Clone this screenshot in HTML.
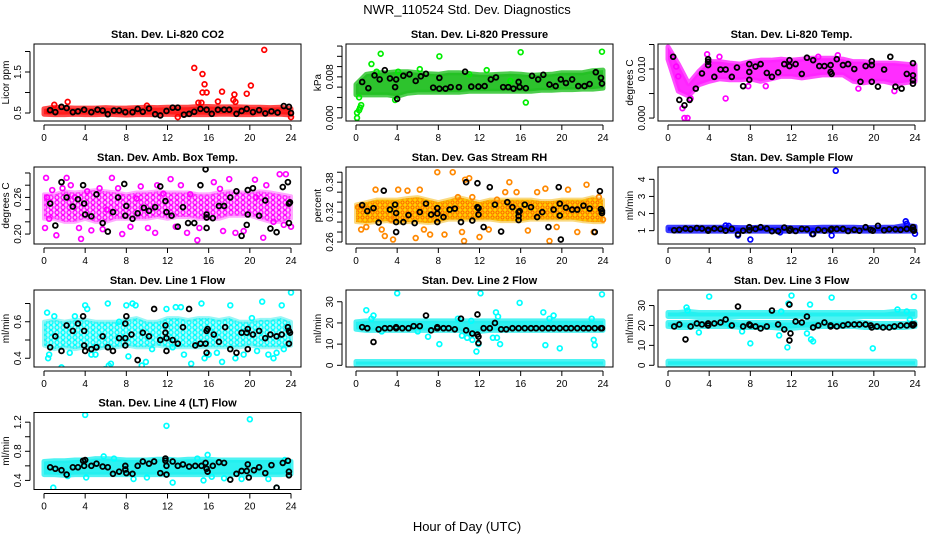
<!DOCTYPE html>
<html><head><meta charset="utf-8"><style>
html,body{margin:0;padding:0;background:#fff}
svg{display:block;font-family:"Liberation Sans",Arial,sans-serif}
</style></head><body>
<svg id="chart" width="936" height="540" viewBox="0 0 936 540" xmlns="http://www.w3.org/2000/svg">
<defs>
<pattern id="pat-amb" width="6" height="5" patternUnits="userSpaceOnUse"><circle cx="3" cy="2.5" r="2" fill="none" stroke="#ff00ff" stroke-width="1.3"/></pattern>
<pattern id="pat-rh" width="5" height="5" patternUnits="userSpaceOnUse"><rect width="5" height="5" fill="#ffd000"/><circle cx="2.5" cy="2.5" r="1.6" fill="none" stroke="#ff6000" stroke-width="1"/></pattern>
<pattern id="pat-l1" width="6" height="5" patternUnits="userSpaceOnUse"><circle cx="3" cy="2.5" r="2" fill="none" stroke="#00ffff" stroke-width="1.3"/></pattern>
</defs>
<text x="467" y="14" text-anchor="middle" font-size="13">NWR_110524  Std. Dev. Diagnostics</text>
<text x="467" y="531" text-anchor="middle" font-size="13">Hour of Day (UTC)</text>
</svg>
<script>
// ---------- data ----------
const xTicks = [0,4,8,12,16,20,24];
const bandHours = [0,1,2,3,4,5,6,7,8,9,10,11,12,13,14,15,16,17,18,19,20,21,22,23,24];

const co2BandLo = [0.47,0.46,0.46,0.47,0.46,0.46,0.47,0.46,0.45,0.46,0.46,0.46,0.47,0.46,0.46,0.46,0.46,0.47,0.47,0.46,0.46,0.47,0.47,0.47,0.45];
const co2BandHi = [0.6,0.64,0.63,0.62,0.62,0.62,0.63,0.62,0.62,0.63,0.64,0.63,0.64,0.64,0.64,0.66,0.66,0.65,0.65,0.65,0.64,0.64,0.63,0.64,0.6];
const co2Points = [[2.3,0.77],[14.6,1.6],[15.4,1.45],[15.6,1.2],[15.4,1.0],[15.8,1.0],[17.3,1.02],[18.5,0.95],[19.7,0.97],[20.1,1.17],[21.4,2.04],[15.0,0.75],[16.9,0.78],[18.6,0.77],[13.0,0.4],[24,0.4],[1,0.7],[10,0.68],[0.5,0.55],[15.3,0.75],[18.4,0.82]];
const co2Black = [[0.6,0.57],[1.1,0.52],[1.7,0.65],[2.2,0.62],[2.8,0.52],[3.3,0.54],[3.9,0.58],[4.6,0.52],[5.2,0.58],[5.7,0.56],[6.2,0.47],[6.8,0.56],[7.3,0.56],[7.9,0.52],[8.6,0.52],[9.1,0.6],[9.6,0.53],[10.2,0.61],[10.8,0.47],[11.3,0.44],[11.9,0.55],[12.5,0.63],[13.0,0.63],[13.6,0.46],[14.1,0.48],[14.6,0.53],[15.2,0.6],[15.8,0.58],[16.3,0.48],[16.9,0.58],[17.5,0.58],[18.0,0.58],[18.7,0.48],[19.2,0.55],[19.7,0.6],[20.3,0.52],[20.9,0.57],[21.5,0.49],[22.1,0.54],[22.7,0.51],[23.3,0.67],[23.8,0.65],[24,0.5]];

const presBandLo = [0.0045,0.0045,0.0045,0.0045,0.0042,0.0048,0.005,0.005,0.005,0.005,0.005,0.0052,0.0052,0.0052,0.0052,0.0052,0.0052,0.0052,0.0054,0.0054,0.0055,0.0055,0.0056,0.0056,0.0058];
const presBandHi = [0.0065,0.0085,0.0088,0.0088,0.009,0.009,0.0088,0.0086,0.0085,0.0088,0.0088,0.0086,0.0084,0.0084,0.0085,0.0086,0.0085,0.0083,0.0084,0.0085,0.0088,0.0088,0.0088,0.0092,0.0093];
const presPoints = [[0.1,0.0],[0.1,0.001],[0.3,0.0015],[0.4,0.002],[0.5,0.0025],[1.5,0.0105],[2.4,0.0125],[8.1,0.012],[16,0.0128],[23.9,0.0129],[16.5,0.003],[2,0.009],[4.1,0.009],[6.2,0.0095],[12.7,0.0093],[15,0.0072],[11,0.0085],[0.3,0.004],[3.8,0.0035]];
const presBlack = [[0.6,0.007],[1.2,0.0058],[1.8,0.0083],[2.3,0.0075],[2.8,0.0093],[3.3,0.0077],[3.8,0.006],[3.9,0.0075],[4.0,0.0037],[4.6,0.0082],[5.2,0.0085],[5.8,0.0072],[6.3,0.0081],[6.8,0.0086],[7.5,0.0059],[8.1,0.0078],[8.1,0.0057],[8.7,0.0057],[9.2,0.006],[10.0,0.006],[10.6,0.009],[11.2,0.0061],[11.9,0.0061],[12.5,0.0062],[13.1,0.0075],[13.6,0.0079],[14.3,0.006],[14.8,0.006],[15.3,0.0057],[15.8,0.007],[15.9,0.006],[16.5,0.0058],[17.1,0.0082],[17.7,0.0075],[18.2,0.0084],[18.8,0.0065],[19.4,0.0062],[19.9,0.0075],[20.4,0.0068],[21.0,0.0075],[21.6,0.0062],[22.2,0.0062],[22.7,0.0066],[23.3,0.0089],[23.8,0.0078],[23.9,0.0067]];

const tempBandLo = [0.012,0.0055,0.0045,0.0068,0.0075,0.008,0.0078,0.0078,0.008,0.0075,0.008,0.0085,0.0085,0.0082,0.0085,0.0088,0.0088,0.0088,0.0075,0.0072,0.0075,0.0075,0.007,0.0072,0.0075];
const tempBandHi = [0.0145,0.011,0.007,0.0095,0.0115,0.0115,0.0112,0.011,0.0115,0.0118,0.0118,0.012,0.0118,0.012,0.0122,0.0122,0.0122,0.012,0.0115,0.0115,0.0112,0.0112,0.0112,0.011,0.0108];
const tempPoints = [[1.6,0.0],[1.9,0.0],[1.4,0.002],[5.6,0.004],[2.2,0.004],[3.8,0.013],[5,0.0125],[14.6,0.0125],[16.5,0.0128],[22,0.0055],[18.5,0.006],[1.0,0.0085],[0.8,0.0105],[7.8,0.0065],[9.5,0.0065]];
const tempBlack = [[0.5,0.0125],[1.1,0.0037],[1.6,0.0026],[2.1,0.0037],[2.7,0.006],[3.3,0.0091],[3.9,0.0108],[3.9,0.0115],[3.9,0.012],[4.5,0.0084],[5.1,0.0099],[5.6,0.0099],[6.2,0.0084],[6.7,0.0103],[7.3,0.0065],[7.9,0.0094],[7.9,0.0078],[7.9,0.011],[8.5,0.0105],[9.0,0.011],[9.6,0.0092],[10.1,0.0084],[10.7,0.0093],[11.3,0.011],[11.8,0.0106],[11.8,0.0118],[12.4,0.011],[13,0.009],[13.5,0.0123],[14.1,0.0118],[14.7,0.0106],[15.2,0.0106],[15.8,0.0108],[15.8,0.0094],[15.9,0.009],[16.4,0.012],[17,0.0108],[17.5,0.011],[18.1,0.01],[18.7,0.0074],[19.2,0.0106],[19.8,0.0116],[19.8,0.0108],[19.8,0.0074],[20.4,0.0064],[21,0.0099],[21.6,0.0125],[22.1,0.0064],[22.7,0.006],[23.2,0.009],[23.8,0.0112],[23.8,0.0087],[23.8,0.0077],[23.8,0.007]];

const ambBandLo = [0.225,0.225,0.22,0.22,0.225,0.22,0.22,0.225,0.225,0.225,0.225,0.228,0.225,0.228,0.228,0.225,0.225,0.225,0.23,0.23,0.23,0.225,0.22,0.22,0.225];
const ambBandHi = [0.265,0.265,0.27,0.268,0.27,0.272,0.27,0.268,0.265,0.268,0.268,0.27,0.268,0.268,0.268,0.265,0.265,0.268,0.27,0.268,0.268,0.27,0.268,0.265,0.262];
const ambPoints = [[0.2,0.292],[0.3,0.26],[0.1,0.21],[0.5,0.225],[1.2,0.198],[1.8,0.275],[2.2,0.292],[2.6,0.28],[3.4,0.21],[3.6,0.192],[4.6,0.206],[5.4,0.275],[5.7,0.208],[6.1,0.24],[6.6,0.292],[7.6,0.2],[8.4,0.212],[9.4,0.278],[10.1,0.21],[10.8,0.202],[11.0,0.28],[12.3,0.29],[12.8,0.212],[13.9,0.202],[14.9,0.19],[15.1,0.21],[16.5,0.285],[17.4,0.205],[18.0,0.29],[18.6,0.202],[19.4,0.205],[20.5,0.289],[21.3,0.194],[21.6,0.28],[22.3,0.22],[22.9,0.298],[23.5,0.298],[23.3,0.215],[24,0.212],[0.8,0.272],[3.0,0.26],[9.0,0.258],[14.2,0.265],[17.1,0.274],[20.6,0.26],[13.3,0.28],[7.2,0.275],[4.2,0.27],[11.6,0.266]];
const ambBlack = [[0.6,0.25],[1.1,0.214],[1.7,0.285],[2.2,0.26],[2.8,0.245],[3.3,0.257],[3.8,0.28],[3.9,0.25],[4.0,0.232],[4.6,0.229],[5.1,0.265],[5.7,0.218],[6.2,0.204],[6.7,0.236],[7.2,0.26],[7.8,0.282],[7.9,0.23],[8,0.246],[8.6,0.225],[9.1,0.234],[9.7,0.243],[10.2,0.238],[10.8,0.244],[11.3,0.278],[11.8,0.254],[11.9,0.236],[12.4,0.23],[13,0.212],[13.5,0.244],[14,0.218],[14.6,0.218],[15.2,0.28],[15.7,0.306],[15.8,0.232],[15.8,0.227],[15.8,0.21],[16.4,0.226],[17,0.246],[17.5,0.246],[18.1,0.26],[18.7,0.27],[19.2,0.197],[19.7,0.215],[19.8,0.272],[19.8,0.232],[20.3,0.275],[20.9,0.23],[21.5,0.255],[22.0,0.209],[22.6,0.203],[23.2,0.277],[23.7,0.285],[23.8,0.25],[23.9,0.252],[23.8,0.218]];

const rhBandLo = [0.3,0.298,0.3,0.302,0.298,0.3,0.3,0.298,0.3,0.305,0.305,0.305,0.305,0.305,0.302,0.302,0.302,0.305,0.305,0.305,0.305,0.305,0.302,0.3,0.3];
const rhBandHi = [0.335,0.34,0.345,0.345,0.345,0.348,0.35,0.345,0.34,0.345,0.35,0.345,0.34,0.345,0.345,0.345,0.345,0.345,0.342,0.342,0.345,0.345,0.345,0.35,0.345];
const rhPoints = [[0.2,0.33],[0.5,0.285],[1.0,0.29],[1.9,0.365],[2.8,0.272],[3.4,0.305],[3.6,0.265],[4.1,0.365],[5.0,0.363],[5.8,0.268],[6.2,0.365],[7.2,0.275],[7.9,0.40],[8.6,0.275],[9.4,0.40],[9.9,0.35],[10.3,0.28],[10.6,0.385],[11.0,0.388],[11.3,0.35],[10.5,0.262],[12.0,0.27],[12.9,0.285],[13.7,0.345],[14.5,0.36],[14.9,0.38],[15.6,0.36],[16.7,0.283],[17.6,0.36],[18.4,0.367],[18.8,0.262],[19.5,0.29],[20.6,0.365],[21.5,0.28],[22.4,0.375],[23.1,0.28],[23.6,0.35],[24,0.305],[2.5,0.285],[6.6,0.285]];
const rhBlack = [[0.6,0.334],[1.1,0.322],[1.7,0.328],[2.2,0.299],[2.7,0.363],[3.3,0.325],[3.8,0.335],[3.9,0.318],[3.9,0.3],[3.9,0.28],[4.6,0.3],[5.1,0.314],[5.7,0.298],[6.2,0.32],[6.8,0.337],[7.3,0.315],[7.9,0.317],[7.9,0.328],[7.9,0.3],[8.5,0.31],[9.1,0.325],[9.6,0.327],[10.2,0.3],[10.7,0.38],[11.3,0.303],[11.8,0.378],[11.8,0.33],[11.9,0.328],[11.9,0.315],[12.4,0.29],[13.0,0.37],[13.5,0.335],[14.1,0.281],[14.7,0.34],[15.2,0.33],[15.8,0.32],[15.8,0.312],[15.8,0.304],[15.9,0.322],[16.4,0.335],[17,0.33],[17.6,0.31],[18.1,0.32],[18.7,0.29],[19.2,0.325],[19.7,0.37],[19.8,0.337],[19.8,0.313],[19.9,0.265],[20.4,0.329],[21,0.325],[21.5,0.325],[22.1,0.333],[22.7,0.327],[23.2,0.28],[23.7,0.362],[23.8,0.326],[23.9,0.318],[23.9,0.322]];

const sampleBandLo = [1.0,0.97,0.97,0.98,0.97,0.97,0.97,0.97,0.97,0.97,0.97,0.97,0.97,0.97,0.97,0.97,0.97,0.97,0.97,0.97,0.97,0.97,0.97,0.97,0.98];
const sampleBandHi = [1.2,1.2,1.2,1.2,1.2,1.2,1.2,1.18,1.18,1.2,1.2,1.2,1.18,1.18,1.18,1.2,1.2,1.2,1.2,1.18,1.18,1.2,1.2,1.3,1.25];
const samplePoints = [[16.3,4.5],[8.0,0.48],[23.1,1.55],[15.9,0.72],[24,0.82],[6.8,0.72],[5.6,1.3],[5.9,1.28],[23.2,1.4],[14,0.8],[10.9,0.9]];
const sampleBlack = [[0.6,1.02],[1.1,1.05],[1.7,1.12],[2.2,1.08],[2.8,1.15],[3.3,1.12],[3.9,1.05],[3.9,1.0],[4.5,1.12],[5.1,1.1],[5.6,1.0],[6.2,1.1],[6.8,0.78],[7.3,1.0],[7.9,1.2],[7.9,1.02],[8.5,1.1],[9.0,1.2],[9.6,1.12],[10.1,0.97],[10.7,0.97],[11.3,1.18],[11.8,1.0],[11.9,1.1],[12.4,0.98],[13,1.1],[13.5,1.08],[14.1,0.8],[14.6,1.05],[15.2,1.0],[15.8,1.05],[15.9,1.1],[16.4,1.1],[17,1.1],[17.5,0.98],[18.1,1.05],[18.6,1.0],[19.2,1.2],[19.7,1.05],[19.9,1.0],[20.4,1.28],[21,1.02],[21.5,1.08],[22.1,1.08],[22.6,1.05],[23.2,1.1],[23.8,1.2],[23.8,1.05],[23.9,1.0]];

const line1BandLo = [0.47,0.45,0.46,0.45,0.46,0.45,0.46,0.46,0.47,0.46,0.46,0.47,0.46,0.46,0.46,0.46,0.46,0.46,0.46,0.46,0.47,0.46,0.46,0.46,0.47];
const line1BandHi = [0.6,0.61,0.6,0.61,0.61,0.6,0.6,0.6,0.61,0.62,0.6,0.6,0.62,0.62,0.61,0.62,0.62,0.61,0.62,0.6,0.6,0.61,0.61,0.62,0.6];
const line1Points = [[0.3,0.65],[0.4,0.4],[0.5,0.42],[1.0,0.63],[1.7,0.35],[3.0,0.63],[4.0,0.69],[4.2,0.67],[4.6,0.42],[5.0,0.42],[5.9,0.34],[6.3,0.36],[6.5,0.37],[6.2,0.7],[7.3,0.6],[8.0,0.69],[8.2,0.41],[8.6,0.7],[8.9,0.69],[9.5,0.36],[9.9,0.38],[10.5,0.45],[11.9,0.67],[12.5,0.46],[12.8,0.68],[13.3,0.68],[13.6,0.42],[14.3,0.37],[15.3,0.7],[15.6,0.4],[16.0,0.42],[16.8,0.43],[17.3,0.38],[18.1,0.69],[18.6,0.4],[19.4,0.42],[20.2,0.62],[21.2,0.71],[21.8,0.42],[22.3,0.4],[22.6,0.43],[23.1,0.69],[23.3,0.45],[24,0.76],[2.5,0.43],[20.7,0.44]];
const line1Black = [[0.6,0.46],[1.1,0.52],[1.7,0.44],[2.2,0.58],[2.8,0.55],[3.3,0.59],[3.8,0.63],[3.9,0.55],[3.9,0.47],[4.0,0.44],[4.6,0.45],[5.1,0.46],[5.7,0.52],[6.2,0.46],[6.7,0.44],[7.3,0.51],[7.9,0.59],[7.9,0.51],[7.9,0.47],[8.0,0.63],[8.5,0.53],[9.1,0.39],[9.6,0.54],[10.2,0.52],[10.7,0.67],[11.3,0.5],[11.8,0.58],[11.8,0.54],[11.9,0.51],[11.9,0.44],[12.5,0.5],[13,0.48],[13.5,0.57],[14.1,0.67],[14.7,0.47],[15.2,0.48],[15.7,0.48],[15.8,0.55],[15.9,0.56],[15.8,0.43],[16.5,0.53],[17,0.49],[17.6,0.57],[18.1,0.45],[18.7,0.43],[19.2,0.54],[19.7,0.54],[19.8,0.56],[19.8,0.45],[20.3,0.53],[20.9,0.55],[21.5,0.51],[22.0,0.53],[22.6,0.52],[23.1,0.53],[23.7,0.57],[23.8,0.55],[23.9,0.54],[23.8,0.48]];

const line2BandLo = [17,16.5,16.5,16.5,16.5,16.5,16.5,16.5,16.5,16.5,16.5,15,16,16.5,16.5,16.5,16.5,16.5,16.5,16.5,16.5,16.5,16.5,16.5,16.5];
const line2BandHi = [20.5,21,21,21,21,21,21,21,21,21,21,21,21,21,21,21,21,21,21,21,21,21,21,21,21];
const line2BaseLo = [0.3,0.3,0.3,0.3,0.3,0.3,0.3,0.3,0.3,0.3,0.3,0.3,0.3,0.3,0.3,0.3,0.3,0.3,0.3,0.3,0.3,0.3,0.3,0.3,0.3];
const line2BaseHi = [1.8,1.8,1.8,1.8,1.8,1.8,1.8,1.8,1.8,1.8,1.8,1.8,1.8,1.8,1.8,1.8,1.8,1.8,1.8,1.8,1.8,1.8,1.8,1.8,1.8];
const line2Points = [[1.0,26],[1.5,22],[1.7,23.5],[2.5,16],[4.0,34],[6.0,16],[7.0,13.5],[8.1,10],[10.3,14],[10.8,13],[11.2,21],[11.3,12],[11.4,15],[11.7,6.5],[11.9,10],[12.1,34],[13.3,13],[13.6,25],[13.8,23],[13.7,13],[14.0,10],[15.9,29.5],[18.2,25],[18.4,9.5],[18.8,22],[19.2,23.5],[19.8,8],[22.9,22],[23.1,12],[23.2,9.5],[23.9,33.5],[9.9,22]];
const line2Black = [[0.6,18],[1.1,17.5],[1.7,11],[2.2,17],[2.8,17.5],[3.3,17.5],[3.9,17.5],[3.9,18],[4.5,17.5],[5.1,17.5],[5.6,18.5],[6.2,18.5],[6.8,23.5],[7.3,16.5],[7.9,18],[7.9,17.5],[8.5,17.5],[9.0,17.5],[9.6,17],[10.2,22],[10.7,16.5],[11.3,15],[11.8,14.5],[11.8,24],[11.9,10.5],[11.9,13.5],[12.4,17.5],[13.0,17.5],[13.5,20],[14.1,17],[14.6,17],[15.2,17.5],[15.8,17.5],[16.4,17.5],[17,17.5],[17.5,17.5],[18.1,17.5],[18.7,17.5],[19.2,17.5],[19.8,17.5],[20.4,17.5],[20.9,17.5],[21.5,17.5],[22.1,17.5],[22.6,17.5],[23.2,17.5],[23.8,17.5],[23.9,17.5]];

const line3TopLo = [24.5,24.5,24.5,24.5,24.5,24.5,24.5,24.5,24.5,24.5,24.5,24.5,24.5,24.5,24.5,24.5,24.5,24.5,24.5,24.5,24.5,24.5,24.5,24.5,24.5];
const line3TopHi = [26.5,26.5,27,26.5,26.5,26.5,26.5,26.5,26.5,26.5,26.5,26.5,26.5,26.5,26.5,26.5,26.5,26.5,26.5,26.5,26.5,26.5,27,27,27];
const line3MidLo = [19.5,19,19,19.5,19.5,19.5,19.5,19,19,19,19,18.5,18.5,19,19,19.5,19.5,19.5,19.5,19,19,19,19,19,19.5];
const line3MidHi = [21.5,21.5,21.5,22,22,22,22,21.5,21.5,21.5,21.5,21.5,21.5,21.5,22,22,22,22,22,21.5,21,21,21,21,21.5];
const line3BaseLo = [0.3,0.3,0.3,0.3,0.3,0.3,0.3,0.3,0.3,0.3,0.3,0.3,0.3,0.3,0.3,0.3,0.3,0.3,0.3,0.3,0.3,0.3,0.3,0.3,0.3];
const line3BaseHi = [2,2,2,2,2,2,2,2,2,2,2,2,2,2,2,2,2,2,2,2,2,2,2,2,2];
const line3Points = [[1.8,29],[1.9,27.5],[3.0,16.5],[4.0,34.5],[6.0,20],[7.2,17],[8.0,11],[10.8,15],[11.0,27],[11.6,9],[11.7,31],[12.0,35],[13.5,16],[13.9,13],[14.1,12],[13.8,30.5],[15.9,34],[19.9,8.5],[22.3,28],[23.2,27],[23.9,34.5],[23.5,23]];
const line3Black = [[0.6,19.5],[1.1,20.5],[1.7,13],[2.2,19.5],[2.8,21],[3.3,20.5],[3.9,21],[3.9,20],[4.5,21],[5.1,21.5],[5.6,23],[6.2,20],[6.8,29.5],[7.3,19.5],[7.9,20.5],[8.0,20],[8.5,19.5],[9.0,18.5],[9.6,19.5],[10.1,27.5],[10.7,20.5],[11.3,18],[11.8,12.5],[11.8,30.5],[11.9,16],[12.4,22],[13.0,21.5],[13.5,24.5],[14.1,19],[14.6,20],[15.2,21.5],[15.8,20],[15.8,19.5],[16.4,19.5],[17.0,20],[17.5,20.5],[18.1,20.5],[18.6,20.5],[19.2,20.5],[19.7,20],[19.8,19],[20.3,19.5],[20.9,19],[21.5,19],[22.0,19.5],[22.6,20],[23.2,20],[23.7,20.5],[23.8,20],[23.9,20.5]];

const line4BandLo = [0.48,0.48,0.47,0.48,0.48,0.48,0.48,0.48,0.48,0.48,0.48,0.48,0.48,0.48,0.48,0.48,0.48,0.48,0.48,0.48,0.48,0.48,0.48,0.48,0.49];
const line4BandHi = [0.66,0.67,0.67,0.68,0.68,0.7,0.7,0.69,0.68,0.68,0.68,0.69,0.69,0.68,0.69,0.69,0.69,0.68,0.68,0.68,0.68,0.68,0.68,0.68,0.66];
const line4Points = [[0.9,0.3],[4.0,1.3],[4.1,0.44],[5.8,0.73],[6.8,0.7],[8.7,0.42],[11.9,1.15],[12.5,0.37],[15.5,0.4],[15.9,0.75],[16.3,0.45],[17.5,0.43],[19.2,0.42],[20.0,1.24],[21.8,0.42],[22.6,0.3],[2.3,0.46],[14.9,0.7],[10,0.44],[23.4,0.68]];
const line4Black = [[0.6,0.58],[1.1,0.56],[1.7,0.54],[2.2,0.48],[2.8,0.58],[3.3,0.58],[3.8,0.67],[3.9,0.6],[4,0.68],[4.6,0.6],[5.1,0.63],[5.7,0.59],[6.2,0.58],[6.7,0.49],[7.3,0.52],[7.9,0.6],[7.9,0.55],[8.0,0.5],[8.6,0.49],[9.1,0.6],[9.6,0.66],[10.2,0.63],[10.7,0.66],[11.3,0.5],[11.8,0.67],[11.8,0.7],[11.9,0.6],[11.9,0.48],[12.5,0.66],[13,0.6],[13.5,0.62],[14.1,0.59],[14.7,0.6],[15.3,0.6],[15.7,0.64],[15.8,0.56],[15.9,0.52],[16.4,0.6],[17.0,0.65],[17.5,0.64],[18.1,0.41],[18.7,0.49],[19.2,0.53],[19.7,0.53],[19.8,0.62],[19.9,0.44],[20.4,0.54],[20.9,0.58],[21.5,0.5],[22.1,0.61],[22.6,0.3],[23.2,0.64],[23.7,0.67],[23.8,0.52],[23.8,0.47]];

// ---------- panels ----------
const panels = [
 {name:'co2', title:'Stan. Dev. Li-820 CO2', ylab:'Licor ppm', col:0,row:0, dom:[0.305,2.183], ticks:[0.5,1,1.5,2], labels:['0.5','','1.5',''], color:'#ff0000', band:'#ff1a1a', fill:null, bands:[[co2BandLo,co2BandHi]], pts:co2Points, blk:co2Black},
 {name:'pressure', title:'Stan. Dev. Li-820 Pressure', ylab:'kPa', col:1,row:0, dom:[-0.0006,0.0144], ticks:[0,0.002,0.004,0.006,0.008,0.010,0.012,0.014], labels:['0.000','','','','0.008','','',''], color:'#00ee00', band:'#22c022', fill:null, bands:[[presBandLo,presBandHi]], pts:presPoints, blk:presBlack},
 {name:'temp', title:'Stan. Dev. Li-820 Temp.', ylab:'degrees C', col:2,row:0, dom:[-0.0006,0.0151], ticks:[0,0.005,0.010,0.015], labels:['0.000','','0.010',''], color:'#ff00ff', band:'#ff22ff', fill:null, bands:[[tempBandLo,tempBandHi]], pts:tempPoints, blk:tempBlack},
 {name:'amb-box-temp', title:'Stan. Dev. Amb. Box Temp.', ylab:'degrees C', col:0,row:1, dom:[0.1837,0.3098], ticks:[0.20,0.22,0.24,0.26,0.28,0.30], labels:['0.20','','','0.26','',''], color:'#ff00ff', band:'#ff55ff', fill:'url(#pat-amb)', bands:[[ambBandLo,ambBandHi]], pts:ambPoints, blk:ambBlack},
 {name:'gas-stream-rh', title:'Stan. Dev. Gas Stream RH', ylab:'percent', col:1,row:1, dom:[0.256,0.4105], ticks:[0.26,0.28,0.30,0.32,0.34,0.36,0.38,0.40], labels:['0.26','','','0.32','','','0.38',''], color:'#ff8800', band:'#f6b300', fill:'url(#pat-rh)', bands:[[rhBandLo,rhBandHi]], pts:rhPoints, blk:rhBlack},
 {name:'sample-flow', title:'Stan. Dev. Sample Flow', ylab:'ml/min', col:2,row:1, dom:[0.22,4.72], ticks:[1,2,3,4], labels:['1','2','3','4'], color:'#0000ff', band:'#0a0aff', fill:null, bands:[[sampleBandLo,sampleBandHi]], pts:samplePoints, blk:sampleBlack},
 {name:'line1-flow', title:'Stan. Dev. Line 1 Flow', ylab:'ml/min', col:0,row:2, dom:[0.352,0.774], ticks:[0.4,0.5,0.6,0.7], labels:['0.4','','0.6',''], color:'#00ffff', band:'#33eeee', fill:'url(#pat-l1)', bands:[[line1BandLo,line1BandHi]], pts:line1Points, blk:line1Black},
 {name:'line2-flow', title:'Stan. Dev. Line 2 Flow', ylab:'ml/min', col:1,row:2, dom:[-0.8,35.55], ticks:[0,10,20,30], labels:['0','10','20','30'], color:'#00ffff', band:'#22f0f0', fill:null, bands:[[line2BandLo,line2BandHi],[line2BaseLo,line2BaseHi]], pts:line2Points, blk:line2Black},
 {name:'line3-flow', title:'Stan. Dev. Line 3 Flow', ylab:'ml/min', col:2,row:2, dom:[-0.86,37.8], ticks:[0,10,20,30], labels:['0','10','20','30'], color:'#00ffff', band:'#22f0f0', fill:null, bands:[[line3TopLo,line3TopHi],[line3MidLo,line3MidHi],[line3BaseLo,line3BaseHi]], pts:line3Points, blk:line3Black},
 {name:'line4-flow', title:'Stan. Dev. Line 4 (LT) Flow', ylab:'ml/min', col:0,row:3, dom:[0.275,1.333], ticks:[0.4,0.6,0.8,1.0,1.2], labels:['0.4','','0.8','','1.2'], color:'#00ffff', band:'#22f0f0', fill:null, bands:[[line4BandLo,line4BandHi]], pts:line4Points, blk:line4Black}
];

const NS='http://www.w3.org/2000/svg';
const svg=document.getElementById('chart');
const colLeft=[34,346,658], rowTop=[44,167,290,412.5], BW=267, BH=77;
function mk(tag,attrs,parent){const e=document.createElementNS(NS,tag);for(const k in attrs)e.setAttribute(k,attrs[k]);(parent||svg).appendChild(e);return e;}

panels.forEach(p=>{
  const L=colLeft[p.col], T=rowTop[p.row], B=T+BH, R=L+BW;
  const xs=h=>L+10+h/24*(BW-20);
  const ys=v=>B-(v-p.dom[0])/(p.dom[1]-p.dom[0])*BH;
  const g=mk('g',{});
  
  
  const clip=mk('clipPath',{id:'c-'+p.name},g);
  mk('rect',{x:L,y:T,width:BW,height:BH},clip);
  const plot=mk('g',{'clip-path':'url(#c-'+p.name+')'},g);
  
  
  p.bands.forEach((bd,bi)=>{
    const lo=bd[0], hi=bd[1];
    let pts=[];
    bandHours.forEach((h,i)=>pts.push(xs(h)+','+ys(hi[i])));
    for(let i=bandHours.length-1;i>=0;i--)pts.push(xs(bandHours[i])+','+ys(lo[i]));
    if(p.fill){
      const under=mk('polygon',{points:pts.join(' '),fill:p.band,'fill-opacity':0.35,stroke:'none'},plot);
      
      
      const poly=mk('polygon',{points:pts.join(' '),fill:p.fill,stroke:p.band,'stroke-width':4,'stroke-linejoin':'round','stroke-opacity':0.5},plot);
      
      
    } else {
      const poly=mk('polygon',{points:pts.join(' '),fill:p.band,stroke:p.band,'stroke-width':5,'stroke-linejoin':'round','fill-opacity':0.95,'stroke-opacity':0.8},plot);
      
      
    }
  });
  p.pts.forEach(d=>{
    const c=mk('circle',{cx:xs(d[0]),cy:ys(d[1]),r:2.4,fill:'none',stroke:p.color,'stroke-width':1.7},plot);
    
    
  });
  p.blk.forEach(d=>{
    const c=mk('circle',{cx:xs(d[0]),cy:ys(d[1]),r:2.4,fill:'none',stroke:'#000','stroke-width':1.8},plot);
    
    
  });
  const box=mk('rect',{x:L,y:T,width:BW,height:BH,fill:'none',stroke:'#000','stroke-width':1},g);
  
  
  const t=mk('text',{x:(L+R)/2,y:T-6,'text-anchor':'middle','font-size':11,'font-weight':'bold'},g);
  t.textContent=p.title;
  
  
  mk('line',{x1:xs(0),x2:xs(24),y1:B+4,y2:B+4,stroke:'#000'},g);
  xTicks.forEach(h=>{
    mk('line',{x1:xs(h),x2:xs(h),y1:B+4,y2:B+9,stroke:'#000'},g);
    const tl=mk('text',{x:xs(h),y:B+20,'text-anchor':'middle','font-size':10},g);
    tl.textContent=String(h);
    
    
  });
  const yt=p.ticks;
  mk('line',{x1:L-4,x2:L-4,y1:ys(yt[0]),y2:ys(yt[yt.length-1]),stroke:'#000'},g);
  yt.forEach((v,i)=>{
    mk('line',{x1:L-9,x2:L-4,y1:ys(v),y2:ys(v),stroke:'#000'},g);
    if(p.labels[i]){
      const yl=mk('text',{x:L-13,y:ys(v),'text-anchor':'middle','font-size':10,transform:'rotate(-90 '+(L-13)+' '+ys(v)+')'},g);
      yl.textContent=p.labels[i];
      
      
    }
  });
  const yc=(T+B)/2;
  const yl=mk('text',{x:L-25,y:yc,'text-anchor':'middle','font-size':10,transform:'rotate(-90 '+(L-25)+' '+yc+')'},g);
  yl.textContent=p.ylab;
  
  
});
</script>
</body></html>
